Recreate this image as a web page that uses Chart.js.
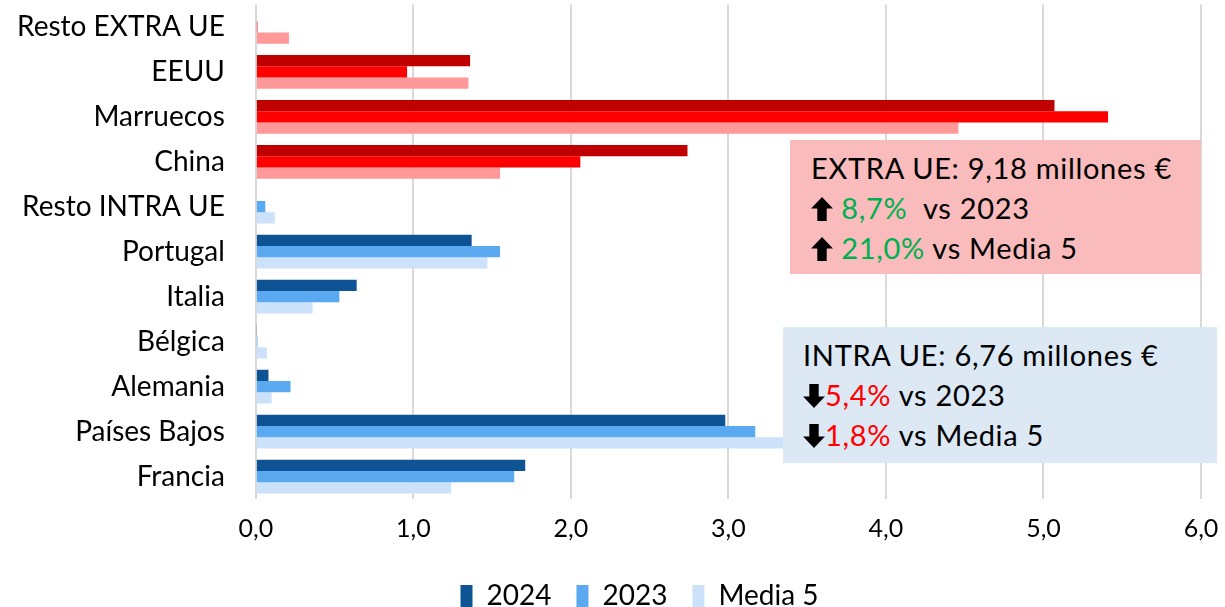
<!DOCTYPE html>
<html>
<head>
<meta charset="utf-8">
<script src="https://cdn.jsdelivr.net/npm/chart.js@4.4.1/dist/chart.umd.min.js"></script>
<style>
  html, body { margin: 0; padding: 0; background: #fff; }
  #wrap { position: relative; width: 1225px; height: 607px; }
  .box { position: absolute; font-family: Lato, "Open Sans", sans-serif; font-size: 29px; letter-spacing: 0.7px; line-height: 40px; color: #000; box-sizing: border-box; }
  #extra { left: 790px; top: 140px; width: 411px; height: 134px; background: #f9bbbb; padding: 8px 0 0 21px; }
  #intra { left: 783px; top: 327px; width: 434px; height: 136px; background: #dde8f5; padding: 8px 0 0 20px; }
  .up { color: #00b050; }
  .down { color: #ff0000; }
  .arr { display: inline-block; width: 22px; height: 24px; vertical-align: -2px; }
</style>
</head>
<body>
<div id="wrap">
  <canvas id="chart" width="1225" height="607"></canvas>
  <div class="box" id="extra">
    <div>EXTRA UE: 9,18 millones €</div>
    <div><svg class="arr" viewBox="0 0 21 23"><polygon points="10.5,0 21,11 15,11 15,23 6,23 6,11 0,11" fill="#000"/></svg> <span class="up">8,7%</span>&nbsp; vs 2023</div>
    <div><svg class="arr" viewBox="0 0 21 23"><polygon points="10.5,0 21,11 15,11 15,23 6,23 6,11 0,11" fill="#000"/></svg> <span class="up">21,0%</span> vs Media 5</div>
  </div>
  <div class="box" id="intra">
    <div>INTRA UE: 6,76 millones €</div>
    <div><svg class="arr" viewBox="0 0 21 23"><polygon points="10.5,23 21,12 15,12 15,0 6,0 6,12 0,12" fill="#000"/></svg><span class="down">5,4%</span> vs 2023</div>
    <div><svg class="arr" viewBox="0 0 21 23"><polygon points="10.5,23 21,12 15,12 15,0 6,0 6,12 0,12" fill="#000"/></svg><span class="down">1,8%</span> vs Media 5</div>
  </div>
</div>
<script>
const categories = ["Resto EXTRA UE", "EEUU", "Marruecos", "China", "Resto INTRA UE", "Portugal", "Italia", "Bélgica", "Alemania", "Países Bajos", "Francia"]
const extraUE = [true, true, true, true, false, false, false, false, false, false, false]
const values2024 = [0.00, 1.36, 5.07, 2.74, 0.00, 1.37, 0.64, 0.005, 0.08, 2.98, 1.71]
const values2023 = [0.01, 0.96, 5.41, 2.06, 0.06, 1.55, 0.53, 0.01, 0.22, 3.17, 1.64]
const valuesMedia5 = [0.21, 1.35, 4.46, 1.55, 0.12, 1.47, 0.36, 0.07, 0.10, 3.56, 1.24]
const xTicks = [0, 1, 2, 3, 4, 5, 6]
const seriesNames = ["2024", "2023", "Media 5"]

const redShades = ["#c00000", "#ff0000", "#ff9999"]
const blueShades = ["#0e5394", "#5aa9f1", "#cbe2fa"]

function colorsFor(i) {
  return categories.map((c, k) => extraUE[k] ? redShades[i] : blueShades[i])
}

// legend sits a bit right of the canvas centre and low in the original
const shiftLegend = {
  id: "shiftLegend",
  afterLayout(chart) {
    const lg = chart.legend
    lg.left += 32
    lg.right += 32
    lg.top += 13
    lg.bottom += 13
  },
}

const canvas = document.getElementById("chart")
new Chart(canvas, {
  type: "bar",
  data: {
    labels: categories,
    datasets: [values2024, values2023, valuesMedia5].map((vals, i) => ({
      label: seriesNames[i],
      data: vals,
      backgroundColor: colorsFor(i),
      borderWidth: 0,
      categoryPercentage: 0.75,
      barPercentage: 1.0,
    })),
  },
  plugins: [shiftLegend],
  options: {
    indexAxis: "y",
    responsive: false,
    animation: false,
    layout: { padding: { top: 0, right: 24, left: 14, bottom: 0 } },
    scales: {
      x: {
        min: 0,
        max: 6,
        afterBuildTicks: (axis) => { axis.ticks = xTicks.map((v) => ({ value: v })) },
        afterFit: (axis) => {
          axis.height -= 15
          axis.paddingRight = 0
        },
        ticks: {
          callback: (v) => v.toFixed(1).replace(".", ","),
          color: "#000",
          font: { family: "Lato", size: 25 },
          padding: 15,
        },
        grid: { color: "#d9d9d9", lineWidth: 2, drawTicks: false },
        border: { display: false },
      },
      y: {
        ticks: {
          color: "#000",
          font: { family: "Lato", size: 28, lineHeight: 0.1 },
          padding: 3,
        },
        grid: { display: true, color: "rgba(0,0,0,0)", drawTicks: true, tickLength: 28 },
        border: { display: false },
      },
    },
    plugins: {
      tooltip: { enabled: false },
      legend: {
        position: "bottom",
        labels: {
          color: "#000",
          font: { family: "Lato", size: 28 },
          boxWidth: 12,
          boxHeight: 22,
          padding: 25,
          generateLabels: (chart) => seriesNames.map((n, i) => ({
            text: n,
            fillStyle: blueShades[i],
            strokeStyle: blueShades[i],
            lineWidth: 0,
            datasetIndex: i,
          })),
        },
      },
    },
  },
})
</script>
</body>
</html>
